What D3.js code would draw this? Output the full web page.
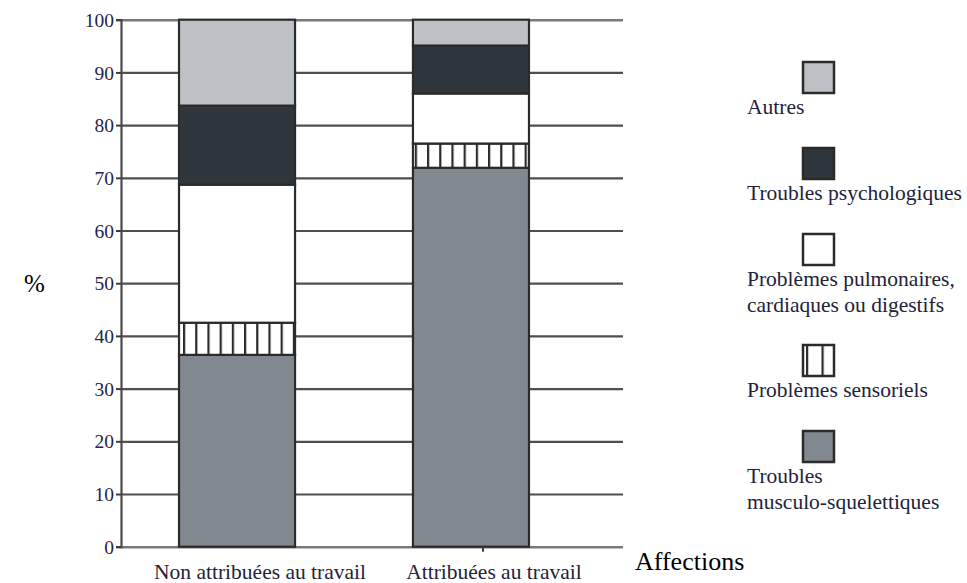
<!DOCTYPE html>
<html>
<head>
<meta charset="utf-8">
<script src="https://cdn.jsdelivr.net/npm/d3@7"></script>
<style>
  body { margin: 0; background: #fff; }
  text { font-family: "Liberation Serif", "Times New Roman", serif; }
</style>
</head>
<body>
<div id="chart"></div>
<script>
// data (percent of each group)
var categories = ["Non attribuées au travail", "Attribuées au travail"];
var musculo = [36.4, 71.9];
var sensoriels = [6.1, 4.6];
var pulmonaires = [26.2, 9.5];
var psycho = [15.0, 9.1];
var autres = [16.3, 4.9];
var yTicks = [0, 10, 20, 30, 40, 50, 60, 70, 80, 90, 100];

var keys = ["musculo", "sensoriels", "pulmonaires", "psycho", "autres"];
var legendLabels = {
  autres: ["Autres"],
  psycho: ["Troubles psychologiques"],
  pulmonaires: ["Problèmes pulmonaires,", "cardiaques ou digestifs"],
  sensoriels: ["Problèmes sensoriels"],
  musculo: ["Troubles", "musculo-squelettiques"]
};
var fills = {
  musculo: "#81888f",
  sensoriels: "url(#hatch)",
  pulmonaires: "#ffffff",
  psycho: "#2f363c",
  autres: "#bdc1c5"
};

var width = 967, height = 583;
var left = 121, gridRight = 623;

var table = categories.map(function(c, i) {
  return { cat: c, musculo: musculo[i], sensoriels: sensoriels[i],
    pulmonaires: pulmonaires[i], psycho: psycho[i], autres: autres[i] };
});

var svg = d3.select("#chart").append("svg")
  .attr("width", width)
  .attr("height", height);

// vertical stripes for the sensory problems
var defs = svg.append("defs");
function hatch(id, w) {
  var p = defs.append("pattern")
    .attr("id", id)
    .attr("patternUnits", "userSpaceOnUse")
    .attr("width", w)
    .attr("height", 10);
  p.append("rect").attr("width", w).attr("height", 10).attr("fill", "#fff");
  p.append("rect").attr("x", 0).attr("width", 2.2).attr("height", 10).attr("fill", "#2a2a2a");
}
hatch("hatch", 12.2);
hatch("hatchLegend", 15.5);

var y = d3.scaleLinear()
  .domain([0, 100])
  .range([546.7, 19.7]);

var x = d3.scaleBand()
  .domain(categories)
  .range([left, 587])
  .paddingInner(0.504)
  .paddingOuter(0.248);

// grid lines
svg.append("g")
  .attr("transform", "translate(" + left + ",0)")
  .call(d3.axisRight(y).tickValues(yTicks).tickSize(gridRight - left).tickFormat(""))
  .call(function(g) {
    g.select(".domain").remove();
    g.selectAll(".tick line")
      .attr("stroke", "#3c3c3c")
      .attr("stroke-width", 2.2)
      .attr("stroke-opacity", 0.9);
    g.selectAll(".tick").filter(function(d) { return d == 100 || d == 0; })
      .select("line").attr("stroke", "#6a6a6a").attr("stroke-width", 2.6);
  });

// y axis
svg.append("g")
  .attr("transform", "translate(" + left + ",0)")
  .attr("font-family", "'Liberation Serif', serif")
  .call(d3.axisLeft(y).tickValues(yTicks).tickSize(5).tickPadding(2))
  .call(function(g) {
    g.attr("font-family", "'Liberation Serif', serif");
    g.select(".domain").attr("stroke", "#4a4a4a").attr("stroke-width", 2.2);
    g.selectAll(".tick line").attr("stroke", "#3c3c3c").attr("stroke-width", 2);
    g.selectAll(".tick text")
      .attr("font-size", 19.5)
      .attr("fill", "#24244a")
      .attr("dy", "0.34em");
  });

// stacked bars
var series = d3.stack().keys(keys)(table);

svg.append("g")
  .selectAll("g")
  .data(series)
  .enter().append("g")
  .attr("fill", function(d) { return fills[d.key]; })
  .selectAll("rect")
  .data(function(d) { return d; })
  .enter().append("rect")
  .attr("x", function(d) { return x(d.data.cat); })
  .attr("y", function(d) { return y(d[1]); })
  .attr("width", x.bandwidth())
  .attr("height", function(d) { return y(d[0]) - y(d[1]); })
  .attr("stroke", "#2b2b2b")
  .attr("stroke-width", 2.2);

// small tick under the category axis
svg.append("line")
  .attr("x1", 483).attr("x2", 483)
  .attr("y1", y(0)).attr("y2", y(0) + 5)
  .attr("stroke", "#3c3c3c")
  .attr("stroke-width", 2);

// category labels
svg.append("g")
  .selectAll("text")
  .data(categories)
  .enter().append("text")
  .attr("x", function(d) { return x(d) + x.bandwidth() / 2 + 23; })
  .attr("y", 579)
  .attr("text-anchor", "middle")
  .attr("font-size", 21.5)
  .attr("fill", "#22223a")
  .text(function(d) { return d; });

// axis titles
svg.append("text")
  .attr("x", 24)
  .attr("y", 292)
  .attr("font-size", 25)
  .attr("fill", "#000")
  .text("%");

svg.append("text")
  .attr("x", 635)
  .attr("y", 570)
  .attr("font-size", 26)
  .attr("fill", "#000")
  .text("Affections");

// legend
var legendOrder = ["autres", "psycho", "pulmonaires", "sensoriels", "musculo"];
var top0 = 62, extra = 0;
var legend = svg.append("g");
legendOrder.forEach(function(k) {
  var yy = top0 + extra;
  legend.append("rect")
    .attr("x", 803)
    .attr("y", yy)
    .attr("width", 31)
    .attr("height", 31)
    .attr("fill", k == "sensoriels" ? "url(#hatchLegend)" : fills[k])
    .attr("stroke", "#2b2b2b")
    .attr("stroke-width", 2.5);
  legendLabels[k].forEach(function(line, j) {
    legend.append("text")
      .attr("x", 747)
      .attr("y", yy + 52 + j * 26)
      .attr("font-size", 21.5)
      .attr("fill", "#22223a")
      .text(line);
  });
  extra += 86 + (legendLabels[k].length - 1) * 25;
});
</script>
</body>
</html>
